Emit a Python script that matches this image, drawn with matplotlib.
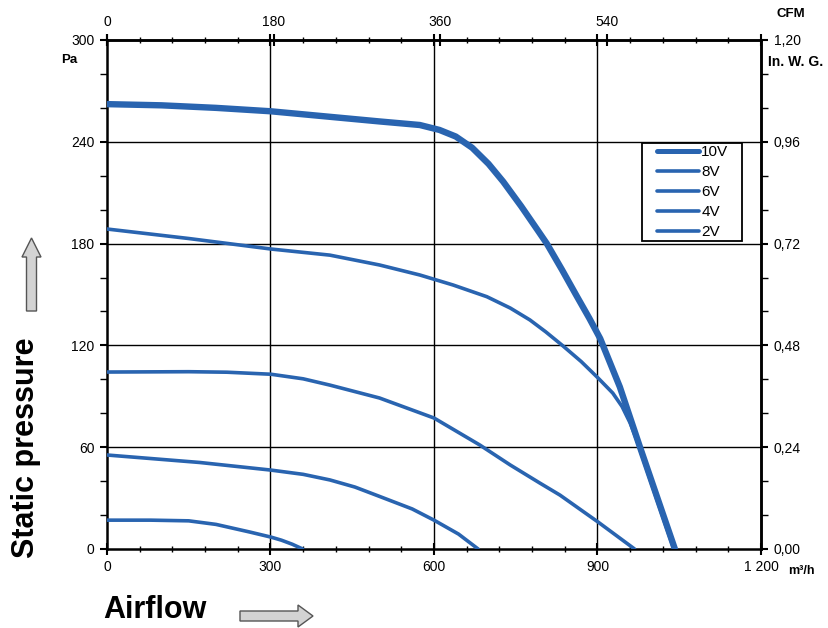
import matplotlib
matplotlib.use("Agg")
import matplotlib.pyplot as plt
from matplotlib.ticker import MultipleLocator, FixedLocator, FixedFormatter, FuncFormatter
from matplotlib.patches import Polygon, Rectangle

plt.rcParams['font.family'] = ['Liberation Sans', 'DejaVu Sans']

# ---- data (airflow m3/h, static pressure Pa) ----
q_10v = [0, 100, 200, 300, 400, 500, 574, 610, 640, 670, 700, 727, 760, 790, 807, 835, 862, 885, 905, 941, 978, 1010, 1042]
p_10v = [262.2, 261.5, 260, 258, 255, 252, 249.9, 247, 243.1, 236.5, 227, 216.5, 202, 188, 180, 164.5, 149, 136, 124, 95.5, 60, 30, 0]

q_8v = [0, 150, 301, 409, 500, 574, 635, 697, 740, 776, 805, 837, 870, 901, 928, 945, 960, 974, 1008, 1040]
p_8v = [188.6, 183, 176.8, 173.2, 167.4, 161.5, 155.6, 148.7, 142, 135, 128, 119.6, 110.5, 100.8, 91.9, 84, 74.2, 62.5, 30, 0]

q_6v = [0, 150, 220, 301, 360, 409, 500, 600, 684, 740, 794, 831, 901, 968]
p_6v = [104.3, 104.5, 104.2, 103, 100.3, 96.6, 89, 77.2, 61.3, 49.5, 38.9, 31.8, 15.9, 0]

q_4v = [0, 170, 301, 360, 409, 455, 500, 560, 600, 645, 681]
p_4v = [55.4, 51, 46.5, 44, 40.7, 36.5, 31, 23.6, 17, 8.8, 0]

q_2v = [0, 80, 150, 200, 262, 301, 320, 340, 359]
p_2v = [17, 17, 16.6, 14.5, 10, 7, 5.2, 2.8, 0]

labels = ['10V', '8V', '6V', '4V', '2V']
bottom_ticks = [0, 300, 600, 900, 1200]
bottom_labels = ['0', '300', '600', '900', '1 200']
left_ticks = [0, 60, 120, 180, 240, 300]
top_ticks_cfm = [0, 180, 360, 540]
right_ticks = [0.0, 0.24, 0.48, 0.72, 0.96, 1.20]

M3H_PER_CFM = 1.699
PA_PER_INWG = 250.0

blue = '#2964B0'

fig = plt.figure(figsize=(8.29, 6.28), dpi=100)
ax = fig.add_axes([107/829, 1 - 549/628, (761-107)/829, (549-40)/628])

series = [(q_10v, p_10v), (q_8v, p_8v), (q_6v, p_6v), (q_4v, p_4v), (q_2v, p_2v)]
for i, ((q, p), lab) in enumerate(zip(series, labels)):
    lw = 4.6 if i == 0 else 2.6
    ax.plot(q, p, color=blue, lw=lw, label=lab, solid_capstyle='round',
            solid_joinstyle='round', zorder=3 + (5 - i) * 0.1)

ax.set_xlim(0, 1200)
ax.set_ylim(0, 300)

# grid
for gx in [300, 600, 900]:
    ax.axvline(gx, color='black', lw=1.0, zorder=1)
for gy in [60, 120, 180, 240]:
    ax.axhline(gy, color='black', lw=1.0, zorder=1)

for s in ax.spines.values():
    s.set_linewidth(1.8)

ax.xaxis.set_major_locator(FixedLocator(bottom_ticks))
ax.xaxis.set_major_formatter(FixedFormatter(bottom_labels))
ax.xaxis.set_minor_locator(MultipleLocator(60))
ax.yaxis.set_major_locator(FixedLocator(left_ticks))
ax.yaxis.set_minor_locator(MultipleLocator(20))

ax.tick_params(axis='x', which='major', direction='inout', length=8, width=1.5,
               labelsize=10, pad=4, top=True)
ax.tick_params(axis='x', which='minor', direction='inout', length=5, width=1.0, top=True)
ax.tick_params(axis='y', which='major', direction='out', length=5, width=1.5,
               labelsize=10, pad=4)
ax.tick_params(axis='y', which='minor', direction='out', length=5, width=1.0)

# top CFM axis
sec_x = ax.secondary_xaxis('top', functions=(lambda x: x / M3H_PER_CFM, lambda x: x * M3H_PER_CFM))
sec_x.xaxis.set_major_locator(FixedLocator(top_ticks_cfm))
sec_x.tick_params(direction='inout', length=8, width=1.5, labelsize=10, pad=4)
sec_x.spines['top'].set_linewidth(1.8)

# right In. W. G. axis
sec_y = ax.secondary_yaxis('right', functions=(lambda y: y / PA_PER_INWG, lambda y: y * PA_PER_INWG))
sec_y.yaxis.set_major_locator(FixedLocator(right_ticks))
sec_y.yaxis.set_minor_locator(MultipleLocator(0.08))
sec_y.yaxis.set_major_formatter(FuncFormatter(lambda v, pos: f"{v:.2f}".replace('.', ',')))
sec_y.tick_params(which='major', direction='out', length=5, width=1.5, labelsize=10, pad=4)
sec_y.tick_params(which='minor', direction='out', length=5, width=1.0)
sec_y.spines['right'].set_linewidth(1.8)

# legend box (frame drawn separately to match the wide reference box)
box = Rectangle((642/829, 1 - 241/628), 100/829, 98/628, transform=fig.transFigure,
                facecolor='white', edgecolor='black', lw=1.3, zorder=5, clip_on=False)
ax.add_patch(box)
leg = ax.legend(loc='upper left', bbox_to_anchor=((657-107)/654, (549-145)/509),
                frameon=False, fontsize=11, handlelength=2.75,
                handletextpad=0.15, labelspacing=0.4, borderpad=0,
                borderaxespad=0)
leg.set_zorder(6)
for i, ln in enumerate(leg.get_lines()):
    ln.set_linewidth(3.6 if i == 0 else 2.6)
    ln.set_solid_capstyle('round')

# unit labels
fig.text(61/829, 1 - 60/628, 'Pa', fontsize=9.5, fontweight='bold', va='center', ha='left')
fig.text(768/829, 1 - 62/628, 'In. W. G.', fontsize=10, fontweight='bold', va='center', ha='left')
fig.text(791/829, 1 - 14/628, 'CFM', fontsize=9.5, fontweight='bold', va='center', ha='center')
fig.text(788/829, 1 - 571/628, 'm³/h', fontsize=9, fontweight='bold', va='center', ha='left')

# big axis titles
fig.text(155/829, 1 - 610/628, 'Airflow', fontsize=22, fontweight='bold',
         va='center', ha='center')
fig.text(26/829, 1 - 448/628, 'Static pressure', fontsize=22, fontweight='bold',
         va='center', ha='center', rotation=90)

# arrows (figure pixel coords)
def fig_poly(pts):
    return Polygon([(x / 829, 1 - y / 628) for x, y in pts], closed=True,
                   transform=fig.transFigure, facecolor='#d3d3d3',
                   edgecolor='#555555', lw=1.0)

up = [(26.5, 311), (26.5, 257), (22, 257), (31.5, 238), (41, 257), (36.5, 257), (36.5, 311)]
right = [(240, 611), (298, 611), (298, 605), (313, 616), (298, 627), (298, 621), (240, 621)]
fig.patches.append(fig_poly(up))
fig.patches.append(fig_poly(right))

fig.savefig('out.png', dpi=100)
